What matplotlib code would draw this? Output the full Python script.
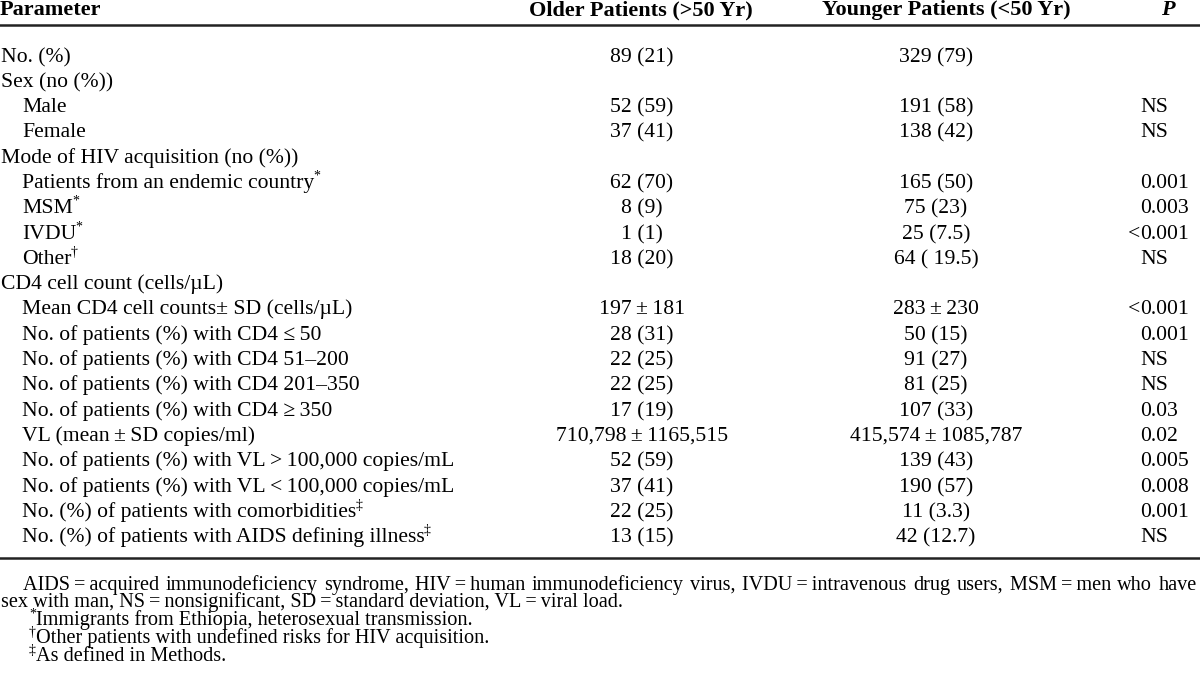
import matplotlib.pyplot as plt

plt.rcParams['font.family'] = ['Liberation Serif', 'DejaVu Serif']

headers = ['Parameter', 'Older Patients (>50 Yr)', 'Younger Patients (<50 Yr)', 'P']

params = ['No. (%)', 'Sex (no (%))', 'Male', 'Female', 'Mode of HIV acquisition (no (%))',
          'Patients from an endemic country', 'MSM', 'IVDU', 'Other',
          'CD4 cell count (cells/\u00b5L)', 'Mean CD4 cell counts\u00b1 SD (cells/\u00b5L)',
          'No. of patients (%) with CD4 \u2264\u200950', 'No. of patients (%) with CD4 51\u2013200',
          'No. of patients (%) with CD4 201\u2013350', 'No. of patients (%) with CD4 \u2265\u2009350',
          'VL (mean\u2009\u00b1\u2009SD copies/ml)', 'No. of patients (%) with VL\u2009>\u2009100,000 copies/mL',
          'No. of patients (%) with VL\u2009<\u2009100,000 copies/mL',
          'No. (%) of patients with comorbidities', 'No. (%) of patients with AIDS defining illness']
indent = [0, 0, 1, 1, 0, 1, 1, 1, 1, 0, 1, 1, 1, 1, 1, 1, 1, 1, 1, 1]
marks = ['', '', '', '', '', '*', '*', '*', '\u2020', '', '', '', '', '', '', '', '', '',
         '\u2021', '\u2021']
older = ['89 (21)', '', '52 (59)', '37 (41)', '', '62 (70)', '8 (9)', '1 (1)', '18 (20)', '',
         '197\u2009\u00b1\u2009181', '28 (31)', '22 (25)', '22 (25)', '17 (19)',
         '710,798\u2009\u00b1\u20091165,515', '52 (59)', '37 (41)', '22 (25)', '13 (15)']
younger = ['329 (79)', '', '191 (58)', '138 (42)', '', '165 (50)', '75 (23)', '25 (7.5)',
           '64 ( 19.5)', '', '283\u2009\u00b1\u2009230', '50 (15)', '91 (27)', '81 (25)', '107 (33)',
           '415,574\u2009\u00b1\u20091085,787', '139 (43)', '190 (57)', '11 (3.3)', '42 (12.7)']
pvals = ['', '', 'NS', 'NS', '', '0.001', '0.003', '<0.001', 'NS', '', '<0.001', '0.001', 'NS',
         'NS', '0.03', '0.02', '0.005', '0.008', '0.001', 'NS']

notes = ['AIDS = acquired immunodeficiency syndrome, HIV = human immunodeficiency virus, '
         'IVDU = intravenous drug users, MSM = men who have',
         'sex with man, NS = nonsignificant, SD = standard deviation, VL = viral load.']
foot_marks = ['*', '\u2020', '\u2021']
foot_texts = ['Immigrants from Ethiopia, heterosexual transmission.',
              'Other patients with undefined risks for HIV acquisition.',
              'As defined in Methods.']

W, H = 1200, 676
fig = plt.figure(figsize=(12, 6.76), dpi=100)
ax = fig.add_axes([0, 0, 1, 1])
ax.set_xlim(0, W)
ax.set_ylim(H, 0)
ax.axis('off')
renderer = fig.canvas.get_renderer()


def width(t):
    return t.get_window_extent(renderer).width


def justified(x0, x1, y, line, **kw):
    # spread the words so the line fills x0..x1, like the journal's justified text
    words = line.replace(' = ', '\u2009=\u2009').split(' ')
    items = [ax.text(0, y, w, **kw) for w in words]
    widths = [width(t) for t in items]
    gap = (x1 - x0 - sum(widths)) / (len(words) - 1)
    x = x0
    for t, w in zip(items, widths):
        t.set_x(x)
        x += w + gap


fs = 15.6
fs_head = 16
fs_note = 14.6
sup = 10
head_y = 15
ax.text(0, head_y, headers[0], fontsize=fs_head, fontweight='bold', va='baseline')
ax.text(641, head_y, headers[1], fontsize=fs_head, fontweight='bold', va='baseline', ha='center')
ax.text(946, head_y, headers[2], fontsize=fs_head, fontweight='bold', va='baseline', ha='center')
ax.text(1168, head_y, headers[3], fontsize=fs_head, fontweight='bold', style='italic',
        va='baseline', ha='center')

ax.plot([0, W], [25, 25], color='#222222', lw=1.8)

y0, dy = 61.5, 25.3
p_x = 1140
for i, p in enumerate(params):
    y = round(y0 + i * dy)
    x = 1 + indent[i] * 21
    t = ax.text(x, y, p, fontsize=fs, va='baseline')
    if marks[i]:
        ax.text(x + width(t) - 1, y - 8, marks[i], fontsize=sup, va='baseline')
    ax.text(642, y, older[i], fontsize=fs, va='baseline', ha='center')
    ax.text(936, y, younger[i], fontsize=fs, va='baseline', ha='center')
    pv = pvals[i]
    if pv.startswith('<'):
        ax.text(p_x, y, '<', fontsize=fs, va='baseline', ha='right')
        pv = pv[1:]
    ax.text(p_x, y, pv, fontsize=fs, va='baseline', ha='left')

ax.plot([0, W], [558, 558], color='#222222', lw=1.8)

ny = 590
justified(23, 1197, ny, notes[0], fontsize=fs_note, va='baseline')
ax.text(1, ny + 17, notes[1].replace(' = ', '\u2009=\u2009'), fontsize=fs_note, va='baseline')
for k in range(3):
    y = ny + 35 + k * 18
    ax.text(29, y - 7, foot_marks[k], fontsize=sup, va='baseline')
    ax.text(36, y, foot_texts[k], fontsize=fs_note, va='baseline')

fig.savefig('out.png', dpi=100, facecolor='white')
